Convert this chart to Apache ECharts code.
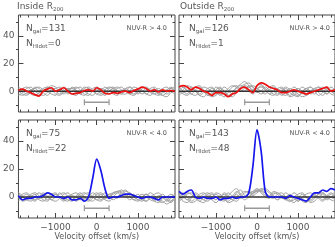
<!DOCTYPE html>
<html><head><meta charset="utf-8">
<script src="https://cdn.jsdelivr.net/npm/echarts@6/dist/echarts.min.js"></script>
<style>html,body{margin:0;padding:0;background:#fff}#c{width:335px;height:247px}</style>
</head><body><div id="c"></div>
<script>
// ---------- data ----------
const velocity = [-1900,-1800,-1700,-1600,-1500,-1400,-1300,-1200,-1100,-1000,-900,-800,-700,-600,-500,-400,-300,-200,-100,0,100,200,300,400,500,600,700,800,900,1000,1100,1200,1300,1400,1500,1600,1700,1800,1900];
const xRange = [-1900, 1900];
const yRange = [-15, 55];
const xTickMajor = [-1000, 0, 1000];
const xTickMinor = [-1800,-1600,-1400,-1200,-800,-600,-400,-200,200,400,600,800,1200,1400,1600,1800];
const yTickMajor = [0, 20, 40];
const yTickMinor = [-10, 10, 30, 50];
const xLabels = [-1000, 0, 1000];
const yLabels = [0, 20, 40];
const columnTitles = [['Inside R', '200'], ['Outside R', '200']];
const nGal = [131, 126, 75, 143];
const nHIdet = [0, 1, 22, 48];
const colorCut = ['NUV-R > 4.0', 'NUV-R > 4.0', 'NUV-R < 4.0', 'NUV-R < 4.0'];
const barRange = [-300, 300];
const barLevel = -8;
const zeroLevel = 0;
const xName = 'Velocity offset (km/s)';

const stackTL = [0.5,1.5,0,-1,-2.5,-3.5,0,1.5,2.5,0,1,2.5,0,-2,-1.5,-1,0.5,1,0,2.5,1,-1.5,-2,-1,-1.5,-0.5,0,-1,0.5,1.5,3,2,0,1,-0.5,1,0,0.5,0];
const stackTR = [3,4,3,1,3,2,0,-1,-3,-1,-1,-2,-4,-2,-1,2,3,1,-1,4,6,5,3,2,1,-1,-1,0,1,0,-1,-2,-1,0,1,2,3,0,1];
const stackBL = [1,-2,-1,-1,0,0,1,3,2,0,0,-1,0,-2,-2,-1,-3,0,13,27,19,6,-1,0,0,1,2,2,1,0,-1,0,0,-1,-2,0,0,0,0];
const stackBR = [4,2,4,5,0,-1,0,-1,-1,0,-2,-1,-1,0,-1,0,0,3,22,48,33,4,0,0,0,0,-1,1,0,-1,-2,-3,0,3,3,5,4,6,5];

const randTL = [
 [2,0,-2,-1,3,2,-1,-3,0,2,3,1,-2,0,2,3,0,-2,-3,0,2,1,-2,0,2,3,0,-2,0,2,1,-2,-3,0,2,0,-2,0,2],
 [-2,-3,-1,1,2,0,2,3,1,-2,-3,0,2,2,0,-2,-3,0,2,3,1,-2,0,2,0,-2,-2,0,3,2,0,2,0,-2,-3,-1,1,2,0],
 [0,2,3,1,-2,-3,0,2,4,3,0,-2,0,-2,-3,0,3,2,0,-2,-3,-1,2,3,0,-2,2,3,1,0,-2,0,2,3,0,-3,-4,-1,0],
 [3,1,0,-2,-3,-1,0,3,2,0,-2,-1,1,2,3,1,-2,-3,0,1,-2,1,3,2,-2,0,1,-2,-3,0,3,2,-1,-2,0,2,3,0,-2],
 [-3,-1,2,3,0,-2,-3,-1,1,2,0,3,1,-2,-1,0,2,3,1,-2,0,3,1,-2,-3,0,2,0,-2,-1,2,3,1,0,-2,-3,-1,2,3],
 [0,-2,-3,0,2,3,1,0,-2,-3,2,0,-1,3,1,-2,0,2,0,2,-1,-3,0,2,3,1,0,3,1,-2,0,-2,0,2,-2,0,1,3,0]
];
const randTR = [
 [4,3,0,-2,1,3,0,-3,-2,1,3,0,-3,-1,3,5,7,4,0,2,3,1,-2,-3,0,2,-1,-4,-3,0,3,1,-2,0,3,1,-2,0,2],
 [-2,1,4,3,0,-3,-4,-1,2,0,-3,-1,2,4,3,0,2,3,4,2,0,-2,1,3,0,-3,-1,2,0,-2,-4,-3,0,2,-1,-3,0,3,1],
 [1,-2,-3,0,3,4,1,-2,-4,-3,0,3,1,-2,0,3,5,6,3,0,-2,0,3,4,1,-2,-3,0,3,1,-2,0,3,0,-3,-1,2,0,-2],
 [0,3,1,-2,-3,0,3,2,0,-2,2,0,-3,-4,-1,2,4,3,1,4,5,2,0,-2,-3,0,2,-1,-3,-4,0,2,3,1,0,2,3,0,-2],
 [3,0,-2,2,0,-3,-1,2,3,0,-2,-4,-1,0,2,4,3,0,-2,1,4,1,-2,0,2,3,0,-3,-1,2,0,-3,-1,2,3,0,-2,1,0],
 [-3,-1,0,3,1,-2,0,-3,-1,3,1,-2,0,3,4,1,0,4,3,-1,0,3,1,0,-2,1,3,1,-2,-3,-1,2,0,-2,1,3,1,-2,-3]
];
const randBL = [
 [0,-3,-2,1,0,-2,-3,0,2,3,0,-2,1,0,-3,-1,2,3,0,-2,-3,0,2,3,4,5,2,0,-2,-3,0,2,0,-3,-4,-1,0,2,0],
 [2,0,-2,-3,0,3,1,-2,0,2,-1,-3,0,2,3,0,-2,-3,-1,2,3,1,0,3,4,3,1,-2,0,2,-1,-3,-1,0,-3,-4,-2,0,2],
 [-1,2,3,0,-2,0,2,0,-2,-3,-1,2,3,0,-2,1,0,-2,1,3,0,-2,-3,0,3,4,5,1,-2,0,2,0,-2,-3,0,2,-1,-3,-1],
 [3,1,-2,0,2,-1,0,3,1,0,3,0,-2,-3,0,2,3,1,0,-2,0,3,1,-2,0,2,4,3,0,-2,-3,0,3,1,-2,-3,-5,-3,0],
 [0,-2,0,2,3,1,-2,-3,0,2,0,-2,-3,1,0,-2,-1,0,3,1,-2,0,2,0,-1,3,1,0,2,-2,0,2,0,-2,1,0,-3,-1,2],
 [-3,0,2,-1,-3,0,3,1,-2,0,2,3,0,-2,1,3,0,-2,-3,0,2,-1,0,2,3,1,0,3,1,0,-2,-3,0,2,3,0,-2,-4,-1]
];
const randBR = [
 [2,3,0,-3,-1,2,3,0,-2,-4,-1,2,0,-2,3,5,1,0,3,4,5,3,0,-1,2,3,0,-3,-2,0,-3,-4,-1,2,3,0,-2,0,2],
 [-2,0,3,2,-1,-3,0,2,3,0,-2,-3,1,4,6,2,0,2,4,6,4,1,0,3,2,-1,0,2,-1,-3,0,2,3,1,0,-2,1,3,0],
 [0,-3,-4,-1,2,0,-2,1,0,3,2,-1,-4,-3,0,2,4,3,1,3,5,6,4,1,-2,0,3,1,0,-3,-1,0,-3,-1,2,3,0,-2,-3],
 [3,1,-2,0,3,1,-2,-3,0,2,0,3,1,-2,-3,0,3,4,2,5,4,3,1,4,3,0,-2,0,3,1,-2,-3,0,2,-1,-3,0,2,3],
 [-3,-1,2,3,0,-3,-4,-1,2,0,-2,0,3,1,4,1,-2,0,3,4,6,5,3,0,-2,1,0,-2,-4,-1,2,0,-2,0,2,3,1,0,-2],
 [2,0,-2,-4,-3,0,2,3,0,-2,1,-2,-3,0,2,-1,0,3,4,5,3,0,-1,2,3,1,-2,-3,0,2,3,0,-4,-3,0,2,-1,0,2]
];

// ---------- layout / style ----------
const panels = [
  {left: 16, top: 15, height: 97},
  {left: 179, top: 15, height: 97},
  {left: 16, top: 120, height: 98},
  {left: 179, top: 120, height: 98}
];
const PW = 159;
const stacks = [stackTL, stackTR, stackBL, stackBR];
const rands = [randTL, randTR, randBL, randBR];
const stackColors = ['#ee1111', '#ee1111', '#1515ee', '#1515ee'];
const FRAME = '#444';
const TXT = '#555';
const FONT = 'DejaVu Sans';

const fmt = v => v < 0 ? '\u2212' + Math.abs(v) : String(v);
const pair = arr => velocity.map((v, i) => [v, arr[i]]);

const grids = [], xAxes = [], yAxes = [], series = [], graphics = [];

panels.forEach(p => {
  grids.push({left: p.left, top: p.top, width: PW, height: p.height, show: true,
    borderColor: FRAME, borderWidth: 1, backgroundColor: 'transparent', containLabel: false});
});
panels.forEach(p => {
  grids.push({left: p.left, top: p.top, width: PW, height: p.height, show: false, containLabel: false});
});

function xAx(g, pos, ticks, len, labels, name) {
  return {type: 'value', gridIndex: g, position: pos, min: xRange[0], max: xRange[1],
    axisLine: {show: false, onZero: false}, splitLine: {show: false},
    axisTick: {show: true, inside: true, length: len, customValues: ticks, lineStyle: {color: FRAME, width: 1}},
    axisLabel: labels ? {show: true, customValues: xLabels, formatter: fmt, margin: 5,
      color: TXT, fontSize: 9, fontFamily: FONT} : {show: false},
    name: name || '', nameLocation: 'middle', nameGap: 15,
    nameTextStyle: {color: TXT, fontSize: 8, fontFamily: FONT}};
}
function yAx(g, pos, ticks, len, labels) {
  return {type: 'value', gridIndex: g, position: pos, min: yRange[0], max: yRange[1],
    axisLine: {show: false, onZero: false}, splitLine: {show: false},
    axisTick: {show: true, inside: true, length: len, customValues: ticks, lineStyle: {color: FRAME, width: 1}},
    axisLabel: labels ? {show: true, customValues: yLabels, formatter: fmt, margin: 4,
      color: TXT, fontSize: 9, fontFamily: FONT} : {show: false}};
}

panels.forEach((p, k) => {
  const isLeft = k % 2 === 0, isBottom = k >= 2;
  xAxes.push(xAx(k, 'bottom', xTickMajor, 5, isBottom, isBottom ? xName : ''));
  xAxes.push(xAx(k, 'top', xTickMajor, 5, false));
  yAxes.push(yAx(k, 'left', yTickMajor, 5, isLeft));
  yAxes.push(yAx(k, 'right', yTickMajor, 5, false));
});
panels.forEach((p, k) => {
  const g = 4 + k;
  xAxes.push(xAx(g, 'bottom', xTickMinor, 2.5, false));
  xAxes.push(xAx(g, 'top', xTickMinor, 2.5, false));
  yAxes.push(yAx(g, 'left', yTickMinor, 2.5, false));
  yAxes.push(yAx(g, 'right', yTickMinor, 2.5, false));
});

const richDef = {a: {fontSize: 9, fontFamily: FONT, fill: TXT, lineHeight: 10, padding: [0, 0, 2, 0]},
                 b: {fontSize: 5.5, fontFamily: FONT, fill: TXT, lineHeight: 6, verticalAlign: 'bottom'}};

panels.forEach((p, k) => {
  const xi = k * 2, yi = k * 2;
  rands[k].forEach(r => {
    series.push({type: 'line', xAxisIndex: xi, yAxisIndex: yi, data: pair(r), showSymbol: false,
      smooth: 0.35, silent: true, animation: false, z: 2,
      lineStyle: {color: '#a0a0a0', width: 1}});
  });
  series.push({type: 'line', xAxisIndex: xi, yAxisIndex: yi,
    data: [[xRange[0], zeroLevel], [xRange[1], zeroLevel]], showSymbol: false, animation: false, z: 3,
    lineStyle: {color: '#333', width: 1.4}});
  series.push({type: 'line', xAxisIndex: xi, yAxisIndex: yi,
    data: [[barRange[0], barLevel], [barRange[1], barLevel]], showSymbol: true, symbol: 'rect',
    symbolSize: [1.2, 6], animation: false, z: 3,
    itemStyle: {color: '#999'}, lineStyle: {color: '#999', width: 1.4}});
  series.push({type: 'line', xAxisIndex: xi, yAxisIndex: yi, data: pair(stacks[k]), showSymbol: false,
    smooth: 0.3, animation: false, z: 4,
    lineStyle: {color: stackColors[k], width: 1.7}});

  graphics.push({type: 'text', x: p.left + 10, y: p.top + 14.5, silent: true,
    style: {text: '{a|N}{b|gal}{a|=' + nGal[k] + '}', rich: richDef, verticalAlign: 'middle'}});
  graphics.push({type: 'text', x: p.left + 10, y: p.top + 29.5, silent: true,
    style: {text: '{a|N}{b|HIdet}{a|=' + nHIdet[k] + '}', rich: richDef, verticalAlign: 'middle'}});
  graphics.push({type: 'text', x: p.left + 151, y: p.top + 13, silent: true,
    style: {text: colorCut[k], fill: TXT, font: '6.5px "' + FONT + '"', align: 'right', verticalAlign: 'middle'}});
  if (k < 2) {
    const t = columnTitles[k];
    graphics.push({type: 'text', x: p.left + 1, y: 8, silent: true,
      style: {text: '{a|' + t[0] + '}{b|' + t[1] + '}', verticalAlign: 'middle', rich: richDef}});
  }
});

const chart = echarts.init(document.getElementById('c'), null, {renderer: 'canvas'});
chart.setOption({animation: false, backgroundColor: '#fff', grid: grids, xAxis: xAxes, yAxis: yAxes,
  series: series, graphic: graphics});
</script></body></html>
